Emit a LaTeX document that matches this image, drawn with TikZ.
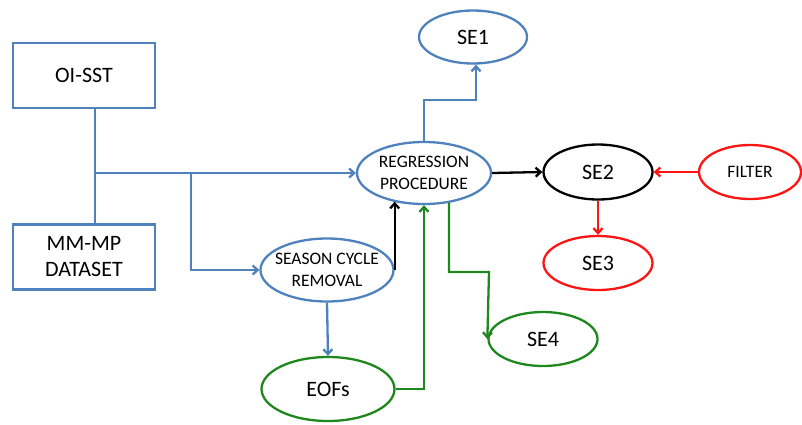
\documentclass[tikz,border=0pt]{standalone}
\usepackage{fontspec}
\setmainfont{Carlito}
\usepackage{xcolor}
\usetikzlibrary{shapes.geometric,arrows.meta}
\definecolor{boxblue}{RGB}{79,129,189}
\definecolor{eofgreen}{RGB}{30,135,30}
\definecolor{filtred}{RGB}{255,20,20}
\begin{document}
\begin{tikzpicture}[x=1pt, y=-1pt, line width=2.3pt,
  big/.style={font=\fontsize{22}{26}\selectfont},
  small/.style={font=\fontsize{17.5}{22}\selectfont},
  src/.style={draw=boxblue, rectangle, minimum width=142pt, minimum height=65pt, align=center, big},
  oval/.style={ellipse, inner sep=0pt, align=center},
  arr/.style={-{Straight Barb[length=5pt,width=9pt]}}]
  \useasboundingbox (0,0) rectangle (802,424);
  % sources
  \node[src] (oi) at (84,75.5) {OI-SST};
  \node[src] (mm) at (84,257) {MM-MP\\DATASET};
  % processing
  \node[oval, draw=boxblue, small, minimum width=134pt, minimum height=62pt] (reg) at (424,173) {REGRESSION\\PROCEDURE};
  \node[oval, draw=boxblue, small, inner xsep=-7pt, minimum width=133pt, minimum height=63pt] (scr) at (327,270) {SEASON CYCLE\\REMOVAL};
  \node[oval, draw=eofgreen, big, minimum width=133pt, minimum height=64pt] (eof) at (328,389) {EOFs};
  \node[oval, draw=filtred, small, minimum width=102pt, minimum height=54pt] (flt) at (750,172) {FILTER};
  % outputs
  \node[oval, draw=boxblue, big, minimum width=108pt, minimum height=53pt] (se1) at (473,37) {SE1};
  \node[oval, draw=black, big, minimum width=109pt, minimum height=55pt] (se2) at (598,172) {SE2};
  \node[oval, draw=filtred, big, minimum width=109pt, minimum height=54pt] (se3) at (598,263) {SE3};
  \node[oval, draw=eofgreen, big, minimum width=109pt, minimum height=54pt] (se4) at (543,339) {SE4};
  % helper points
  \coordinate (jn) at (95,173);
  \coordinate (br) at (191,173);
  \coordinate (bk) at (476,100);
  \coordinate (gk) at (489,272);
  % blue lines
  \draw[boxblue] (oi.south -| jn) -- (mm.north -| jn);
  \draw[boxblue, arr] (jn) -- (reg.west);
  \draw[boxblue, arr] (br) |- (scr.west);
  \draw[boxblue, arr] (scr.south) -- (eof.north);
  \draw[boxblue, arr] (reg.north) |- (bk) -- (bk |- se1.south);
  % black lines
  \draw[arr] (scr.east) -- (scr.east |- reg.-137);
  \draw[arr] (reg.east) -- (se2.west);
  % green lines
  \draw[eofgreen, arr] (eof.east) -| (reg.south);
  \draw[eofgreen, arr] (reg.-50) |- (gk) -- (se4.west);
  % red lines
  \draw[filtred, arr] (flt.west) -- (se2.east);
  \draw[filtred, arr] (se2.south) -- (se3.north);
\end{tikzpicture}
\end{document}
